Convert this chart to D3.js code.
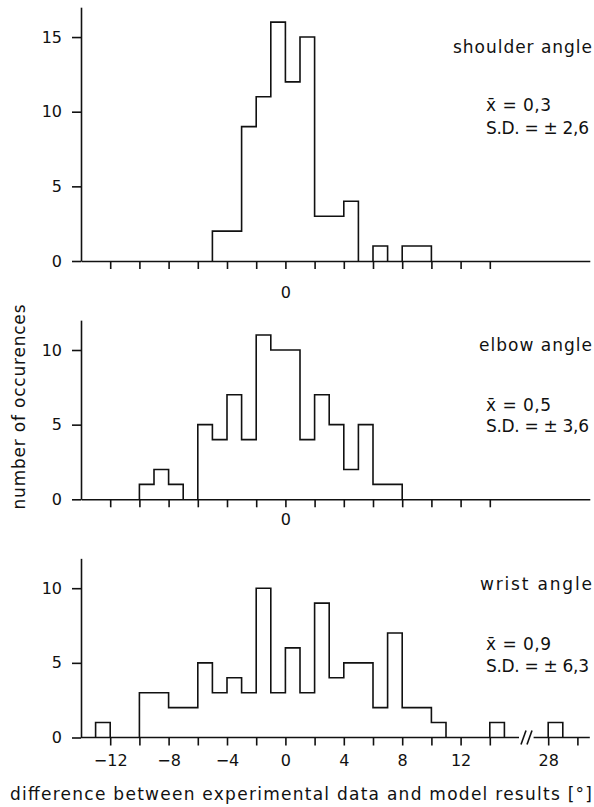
<!DOCTYPE html>
<html>
<head>
<meta charset="utf-8">
<script src="https://cdn.jsdelivr.net/npm/d3@7"></script>
<style>
  body { margin: 0; background: #fff; }
  svg { display: block; }
  text { font-family: "DejaVu Sans", sans-serif; fill: #111; }
</style>
</head>
<body>
<div id="chart"></div>
<script>
// histogram bins (bin start, 1 degree wide) and counts
var shoulderBins = [-5, -4, -3, -2, -1, 0, 1, 2, 3, 4, 6, 8, 9];
var shoulderCounts = [2, 2, 9, 11, 16, 12, 15, 3, 3, 4, 1, 1, 1];

var elbowBins = [-10, -9, -8, -6, -5, -4, -3, -2, -1, 0, 1, 2, 3, 4, 5, 6, 7];
var elbowCounts = [1, 2, 1, 5, 4, 7, 4, 11, 10, 10, 4, 7, 5, 2, 5, 1, 1];

var wristBins = [-13, -10, -9, -8, -7, -6, -5, -4, -3, -2, -1, 0, 1, 2, 3, 4, 5, 6, 7, 8, 9, 10, 14, 28];
var wristCounts = [1, 3, 3, 2, 2, 5, 3, 4, 3, 10, 3, 6, 3, 9, 4, 5, 5, 2, 7, 2, 2, 1, 1, 1];

var panelTitles = ["shoulder angle", "elbow angle", "wrist angle"];
var panelMeans = ["0,3", "0,5", "0,9"];
var panelSD = ["2,6", "3,6", "6,3"];

var xTicksTop = d3.range(-12, 15, 2);
var xTicksBottom = d3.range(-12, 15, 2).concat([28, 30]);
var xLabelsBottom = [-12, -8, -4, 0, 4, 8, 12, 28];
var yTicksTop = [0, 5, 10, 15];
var yTicksLow = [0, 5, 10];

var W = 594, H = 807;
var svg = d3.select("#chart").append("svg")
    .attr("width", W)
    .attr("height", H);

// x scale with a break: 17..27 collapsed
var x = d3.scaleLinear()
    .domain([-14, 17, 27, 30.85])
    .range([81, 533.6, 533.6, 589.8]);

var pxPerCount = 14.93;

var panels = [
    { bins: shoulderBins, counts: shoulderCounts, y0: 261, ymax: 17, yTicks: yTicksTop,
      xTicks: xTicksTop, xLabels: [0], pad: 17.5, titleY: 53, meanY: 111, sdY: 134, titleW: 139 },
    { bins: elbowBins, counts: elbowCounts, y0: 499.3, ymax: 12, yTicks: yTicksLow,
      xTicks: xTicksTop, xLabels: [0], pad: 6.5, titleY: 350.5, meanY: 411, sdY: 432, titleW: 113 },
    { bins: wristBins, counts: wristCounts, y0: 737.5, ymax: 12, yTicks: yTicksLow,
      xTicks: xTicksBottom, xLabels: xLabelsBottom, pad: 9, titleY: 590, meanY: 650, sdY: 671.5,
      titleW: 112, broken: true }
];

// outline of the histogram as steps, one path per run of adjacent bins
function stepRuns(bins, counts) {
    var runs = [], cur = null;
    bins.forEach(function (b, i) {
        if (!cur || b !== cur.end) {
            cur = { pts: [[b, 0]], end: b };
            runs.push(cur);
        }
        cur.pts.push([b, counts[i]], [b + 1, counts[i]]);
        cur.end = b + 1;
    });
    runs.forEach(function (r) { r.pts.push([r.end, 0]); });
    return runs.map(function (r) { return r.pts; });
}

panels.forEach(function (p, k) {
    var y = d3.scaleLinear()
        .domain([0, p.ymax])
        .range([p.y0, p.y0 - p.ymax * pxPerCount]);

    var g = svg.append("g");

    // x axis
    var xAxis = d3.axisBottom(x)
        .tickValues(p.xTicks)
        .tickSize(8)
        .tickSizeOuter(0)
        .tickPadding(p.pad)
        .tickFormat(function (d) {
            return p.xLabels.indexOf(d) >= 0 ? d3.format("")(d) : "";
        });
    var xa = g.append("g")
        .attr("transform", "translate(0," + p.y0 + ")")
        .call(xAxis);
    xa.selectAll("text").style("font-size", "16px").style("font-family", "DejaVu Sans");
    xa.selectAll("line").attr("stroke", "#111").attr("stroke-width", 1.6);
    xa.select(".domain").attr("stroke", "#111").attr("stroke-width", 1.6);

    if (p.broken) {
        xa.select(".domain").remove();
        var segs = [[-14, 16], [27, 30.85]];
        segs.forEach(function (s) {
            g.append("line")
                .attr("x1", x(s[0])).attr("x2", x(s[1]))
                .attr("y1", p.y0).attr("y2", p.y0)
                .attr("stroke", "#111").attr("stroke-width", 1.6);
        });
        var bx = x(16);
        [2, 8].forEach(function (off) {
            g.append("line")
                .attr("x1", bx + off).attr("y1", p.y0 + 7)
                .attr("x2", bx + off + 5).attr("y2", p.y0 - 7)
                .attr("stroke", "#111").attr("stroke-width", 1.6);
        });
    }

    // y axis
    var ya = g.append("g")
        .attr("transform", "translate(" + x(-14) + ",0)")
        .call(d3.axisLeft(y).tickValues(p.yTicks).tickSize(9).tickSizeOuter(0).tickPadding(10));
    ya.selectAll("text").style("font-size", "16px").style("font-family", "DejaVu Sans");
    ya.selectAll("line").attr("stroke", "#111").attr("stroke-width", 1.6);
    ya.select(".domain").attr("stroke", "#111").attr("stroke-width", 1.6);

    // histogram
    var line = d3.line()
        .x(function (d) { return x(d[0]); })
        .y(function (d) { return y(d[1]); });
    g.selectAll(".hist")
        .data(stepRuns(p.bins, p.counts))
        .enter()
        .append("path")
        .attr("class", "hist")
        .attr("d", line)
        .attr("fill", "none")
        .attr("stroke", "#111")
        .attr("stroke-width", 1.6);

    // labels
    g.append("text")
        .attr("x", 592 - p.titleW)
        .attr("y", p.titleY)
        .attr("textLength", p.titleW)
        .attr("lengthAdjust", "spacing")
        .style("font-size", "17px")
        .text(panelTitles[k]);

    g.append("text")
        .attr("x", 486)
        .attr("y", p.meanY)
        .attr("textLength", 65)
        .attr("lengthAdjust", "spacing")
        .style("font-size", "17px")
        .text("x\u0304 = " + panelMeans[k]);

    g.append("text")
        .attr("x", 486)
        .attr("y", p.sdY)
        .attr("textLength", 103)
        .attr("lengthAdjust", "spacing")
        .style("font-size", "17px")
        .text("S.D. = \u00b1 " + panelSD[k]);
});

// axis titles
svg.append("text")
    .attr("transform", "translate(25,407) rotate(-90)")
    .attr("text-anchor", "middle")
    .attr("textLength", 205)
    .attr("lengthAdjust", "spacing")
    .style("font-size", "17px")
    .text("number of occurences");

svg.append("text")
    .attr("x", 10)
    .attr("y", 800)
    .attr("textLength", 582)
    .attr("lengthAdjust", "spacing")
    .style("font-size", "17px")
    .text("difference between experimental data and model results [\u00b0]");
</script>
</body>
</html>
